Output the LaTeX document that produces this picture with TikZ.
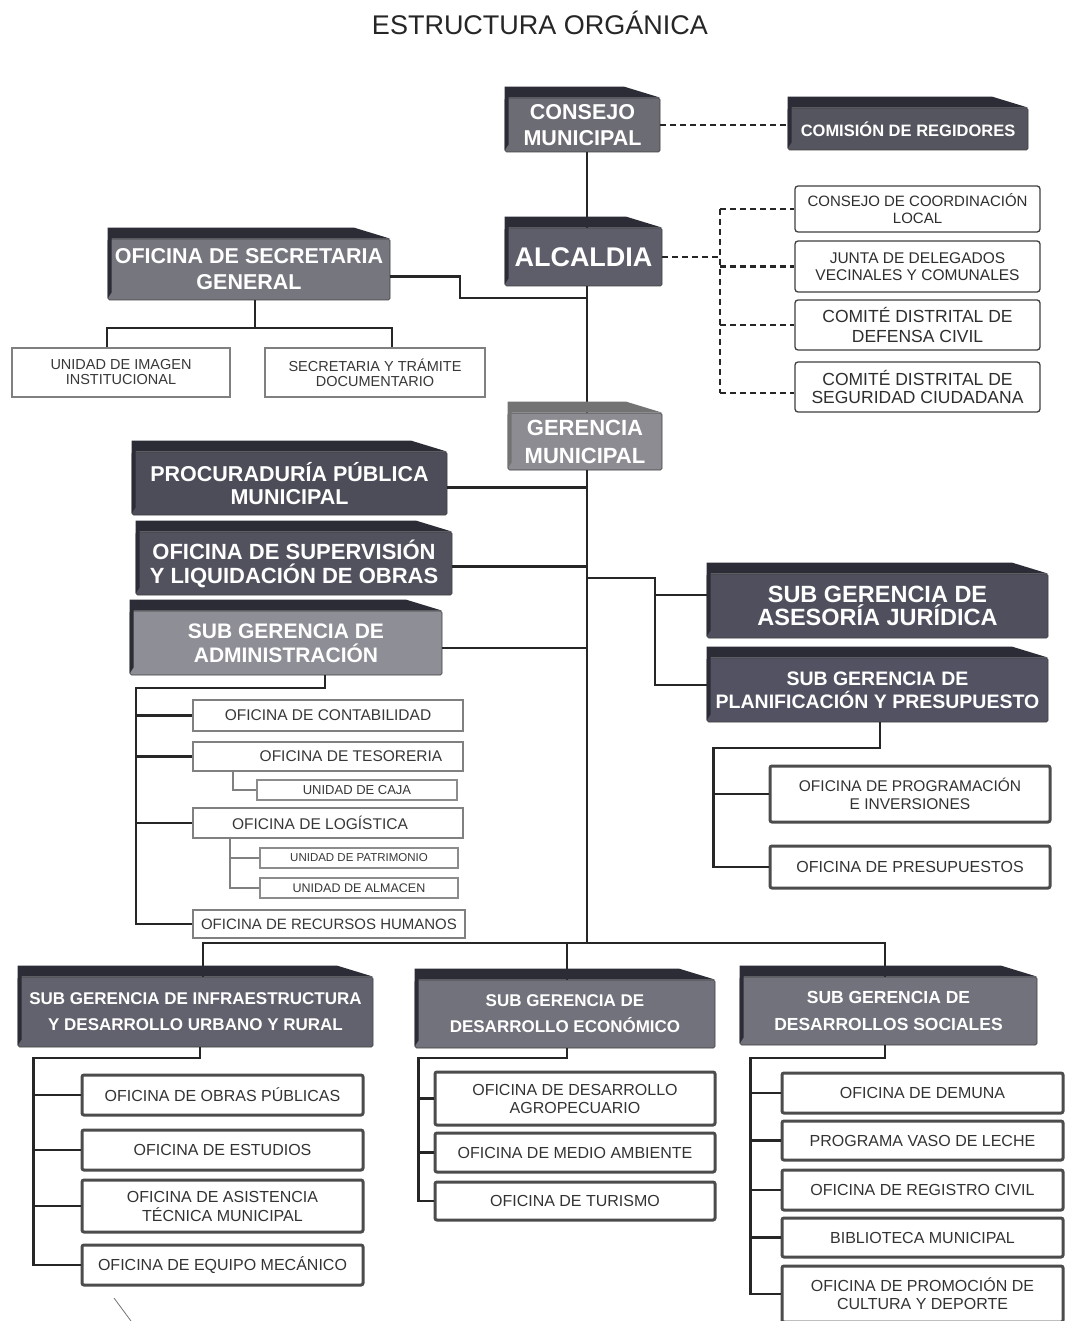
\documentclass[tikz,border=0pt]{standalone}
\usepackage{fontspec}
\setmainfont{Liberation Sans}
\usetikzlibrary{calc}
\definecolor{lidc}{HTML}{2C2C36}
\definecolor{cConsejo}{HTML}{6C6C74}
\definecolor{cCom}{HTML}{55555F}
\definecolor{cAlc}{HTML}{5E5E6A}
\definecolor{cSec}{HTML}{76767F}
\definecolor{cGer}{HTML}{8C8C92}
\definecolor{cPro}{HTML}{4D4D5A}
\definecolor{cSup}{HTML}{52525F}
\definecolor{cAdm}{HTML}{8E8E96}
\definecolor{cAse}{HTML}{4F4F5E}
\definecolor{cPla}{HTML}{525262}
\definecolor{cInf}{HTML}{62626E}
\definecolor{cEco}{HTML}{72727C}
\definecolor{cSoc}{HTML}{72727C}
\newcommand{\fsz}[2]{\fontsize{#1}{#2}\selectfont}
\newcommand{\lid}[2][lidc]{\fill[#1] ([yshift=11pt]#2.north west) -- ([xshift=-36pt,yshift=11pt]#2.north east) -- (#2.north east) -- ([xshift=4pt]#2.north west) -- ([xshift=4pt,yshift=8pt]#2.south west) -- ([yshift=2pt]#2.south west) -- cycle;}
\tikzset{
 sz/.style 2 args={minimum width=#1pt, minimum height=#2pt},
 dbox/.style={fill=#1, draw=black!75, line width=0.6pt, text=white, align=center, inner sep=1pt, rounded corners=1.5pt},
 lbox/.style={fill=white, draw=black!70, line width=3pt, text=black!80, align=center, inner sep=1pt, rounded corners=2pt},
 abox/.style={fill=white, draw=black!50, line width=1.8pt, text=black!78, align=center, inner sep=1pt},
 ubox/.style={fill=white, draw=black!45, line width=1.3pt, text=black!78, align=center, inner sep=1pt},
 rbox/.style={fill=white, draw=black!75, line width=1.3pt, text=black!82, align=center, inner sep=1pt, rounded corners=3pt},
 conn/.style={draw=black!85, line width=2.2pt},
 dconn/.style={draw=black!85, line width=2.3pt, dash pattern=on 6pt off 4pt},
 uconn/.style={draw=black!50, line width=1.3pt},
}
\begin{document}
\begin{tikzpicture}[x=1pt,y=-1pt]
\useasboundingbox (0,0) rectangle (1066,1321);
\fill[white] (0,0) rectangle (1066,1321);

\node[font=\fsz{27}{30}, text=black!85] (title) at (540,23) {ESTRUCTURA ORGÁNICA};

% dark boxes
\node[dbox=cConsejo, sz={155}{54}, font=\fsz{21.5}{26}\bfseries] (consejo) at (582.5,125) {CONSEJO\\MUNICIPAL};
\node[dbox=cCom, sz={240}{42}, font=\fsz{16.5}{18}\bfseries] (comision) at (908,129) {COMISIÓN DE REGIDORES};
\node[dbox=cAlc, sz={157}{58}, font=\fsz{27}{30}\bfseries] (alcaldia) at (583.5,257) {ALCALDIA};
\node[dbox=cSec, sz={282}{61}, font=\fsz{21.5}{26}\bfseries] (secg) at (249,269.5) {OFICINA DE SECRETARIA\\GENERAL};
\node[dbox=cGer, sz={154}{57}, font=\fsz{22}{28}\bfseries] (gerencia) at (585,441.5) {GERENCIA\\MUNICIPAL};
\node[dbox=cPro, sz={315}{63}, font=\fsz{21.5}{23}\bfseries] (procur) at (289.5,483.5) {PROCURADURÍA PÚBLICA\\MUNICIPAL};
\node[dbox=cSup, sz={316}{63}, font=\fsz{22}{24}\bfseries] (superv) at (294,563.5) {OFICINA DE SUPERVISIÓN\\Y LIQUIDACIÓN DE OBRAS};
\node[dbox=cAdm, sz={312}{64}, font=\fsz{21}{24}\bfseries] (admin) at (286,643) {SUB GERENCIA DE\\ADMINISTRACIÓN};
\node[dbox=cAse, sz={341}{64}, font=\fsz{23.5}{23}\bfseries] (asesoria) at (877.5,606) {SUB GERENCIA DE\\ASESORÍA JURÍDICA};
\node[dbox=cPla, sz={341}{64}, font=\fsz{19.5}{23}\bfseries] (planif) at (877.5,690) {SUB GERENCIA DE\\PLANIFICACIÓN Y PRESUPUESTO};
\node[dbox=cInf, sz={355}{70}, font=\fsz{17}{26}\bfseries] (infra) at (195.5,1012) {SUB GERENCIA DE INFRAESTRUCTURA\\Y DESARROLLO URBANO Y RURAL};
\node[dbox=cEco, sz={300}{68}, font=\fsz{17}{26}\bfseries] (econ) at (565,1014) {SUB GERENCIA DE\\DESARROLLO ECONÓMICO};
\node[dbox=cSoc, sz={297}{68}, font=\fsz{17.5}{27}\bfseries] (social) at (888.5,1011) {SUB GERENCIA DE\\DESARROLLOS SOCIALES};

% right group
\node[rbox, sz={245}{46}, font=\fsz{15}{17}] (ccl) at (917.5,209) {CONSEJO DE COORDINACIÓN\\LOCAL};
\node[rbox, sz={245}{51}, font=\fsz{15.5}{17}] (junta) at (917.5,266.5) {JUNTA DE DELEGADOS\\VECINALES Y COMUNALES};
\node[rbox, sz={245}{50}, font=\fsz{17.5}{20}] (defensa) at (917.5,325) {COMITÉ DISTRITAL DE\\DEFENSA CIVIL};
\node[rbox, sz={245}{50}, font=\fsz{17.5}{18}] (segur) at (917.5,387) {COMITÉ DISTRITAL DE\\SEGURIDAD CIUDADANA};

% secretaria children
\node[abox, sz={218}{49}, font=\fsz{14.5}{15}] (imagen) at (121,372.5) {UNIDAD DE IMAGEN\\INSTITUCIONAL};
\node[abox, sz={220}{49}, font=\fsz{14.5}{15}] (tramite) at (375,372.5) {SECRETARIA Y TRÁMITE\\DOCUMENTARIO};

% administracion children
\node[abox, sz={270}{31}, font=\fsz{15.5}{17}] (contab) at (328,715.5) {OFICINA DE CONTABILIDAD};
\node[abox, sz={270}{29}, font=\fsz{15.5}{17}] (tesor) at (328,756.5) {\hspace*{46pt}OFICINA DE TESORERIA};
\node[ubox, sz={200}{20}, font=\fsz{13}{14}] (caja) at (357,790) {UNIDAD DE CAJA};
\node[abox, sz={270}{30}, font=\fsz{15.5}{17}] (logist) at (328,823) {OFICINA DE LOGÍSTICA\hspace*{16pt}};
\node[ubox, sz={198}{20}, font=\fsz{11.5}{13}] (patrim) at (359,858) {UNIDAD DE PATRIMONIO};
\node[ubox, sz={198}{20}, font=\fsz{12.5}{13}] (almacen) at (359,888) {UNIDAD DE ALMACEN};
\node[abox, sz={272}{28}, font=\fsz{15}{17}] (rrhh) at (329,924) {OFICINA DE RECURSOS HUMANOS};

% planificacion children
\node[lbox, sz={280}{56}, font=\fsz{15.5}{18}] (program) at (910,794) {OFICINA DE PROGRAMACIÓN\\E INVERSIONES};
\node[lbox, sz={280}{42}, font=\fsz{16}{18}] (presup) at (910,867) {OFICINA DE PRESUPUESTOS};

% infraestructura children
\node[lbox, sz={281}{40}, font=\fsz{16}{18}] (obras) at (222.5,1095) {OFICINA DE OBRAS PÚBLICAS};
\node[lbox, sz={281}{40}, font=\fsz{16}{18}] (estud) at (222.5,1150) {OFICINA DE ESTUDIOS};
\node[lbox, sz={281}{52}, font=\fsz{16}{19}] (asist) at (222.5,1206) {OFICINA DE ASISTENCIA\\TÉCNICA MUNICIPAL};
\node[lbox, sz={281}{40}, font=\fsz{16}{18}] (equipo) at (222.5,1265) {OFICINA DE EQUIPO MECÁNICO};

% economico children
\node[lbox, sz={280}{53}, font=\fsz{16}{18}] (agro) at (575,1098.5) {OFICINA DE DESARROLLO\\AGROPECUARIO};
\node[lbox, sz={280}{39}, font=\fsz{16}{18}] (medio) at (575,1152.5) {OFICINA DE MEDIO AMBIENTE};
\node[lbox, sz={280}{38}, font=\fsz{16}{18}] (turismo) at (575,1201) {OFICINA DE TURISMO};

% sociales children
\node[lbox, sz={281}{40}, font=\fsz{16}{18}] (demuna) at (922.5,1093) {OFICINA DE DEMUNA};
\node[lbox, sz={281}{39}, font=\fsz{16}{18}] (vaso) at (922.5,1140.5) {PROGRAMA VASO DE LECHE};
\node[lbox, sz={281}{40}, font=\fsz{16}{18}] (registro) at (922.5,1190) {OFICINA DE REGISTRO CIVIL};
\node[lbox, sz={281}{39}, font=\fsz{16}{18}] (biblio) at (922.5,1237.5) {BIBLIOTECA MUNICIPAL};
\node[lbox, sz={281}{56}, font=\fsz{16}{18}] (cultura) at (922.5,1294) {OFICINA DE PROMOCIÓN DE\\CULTURA Y DEPORTE};

% ---------- connectors ----------
% dashed
\draw[dconn] (consejo.east) -- (comision.west |- consejo.east);
\coordinate (dv) at (720,0);
\draw[dconn] (alcaldia.east) -- (alcaldia.east -| dv);
\draw[dconn] (ccl.west -| dv) -- ([yshift=-6pt]segur.west -| dv);
\foreach \n in {ccl,junta,defensa} \draw[dconn] (\n.west -| dv) -- (\n.west);
\draw[dconn] ([yshift=-6pt]segur.west -| dv) -- ([yshift=-6pt]segur.west);

% trunk
\coordinate (tx) at (587,0);
\coordinate (busc) at (587,943);
\draw[conn] (consejo.south -| tx) -- (alcaldia.north -| tx);
\draw[conn] (alcaldia.south -| tx) -- (gerencia.north -| tx);
\draw[conn] (gerencia.south -| tx) -- (busc);

% secretaria
\coordinate (sj) at (587,298);
\draw[conn] ([yshift=-7pt]secg.east) -- ++(70,0) |- (sj);
\coordinate (sb) at (255,328);
\draw[conn] (secg.south -| sb) -- (sb);
\draw[conn] ([xshift=-14pt]imagen.north) |- (sb) -| ([xshift=17pt]tramite.north);

% left offices to trunk
\draw[conn] ([yshift=-4pt]procur.east) -- ([yshift=-4pt]procur.east -| tx);
\draw[conn] ([yshift=-3pt]superv.east) -- ([yshift=-3pt]superv.east -| tx);
\draw[conn] ([yshift=-5pt]admin.east) -- ([yshift=-5pt]admin.east -| tx);

% right sub gerencias
\coordinate (rj) at (587,578);
\draw[conn] (rj) -| ([xshift=-52pt,yshift=5pt]planif.west) -- ([yshift=5pt]planif.west);
\draw[conn] ([xshift=-52pt,yshift=11pt]asesoria.west) -- ([yshift=11pt]asesoria.west);

% planificacion children
\draw[conn] ([xshift=2.5pt]planif.south) -- ++(0,26) -| ([xshift=-55pt]presup.west) -- (presup.west);
\draw[conn] ([xshift=-55pt]program.west) -- (program.west);

% administracion children
\draw[conn] ([xshift=39pt]admin.south) -- ++(0,13) -| ([xshift=-56pt]rrhh.west) -- (rrhh.west);
\foreach \n in {contab,tesor,logist} \draw[conn] ([xshift=-56pt]\n.west) -- (\n.west);
\draw[uconn] ([xshift=-95pt]tesor.south) |- (caja.west);
\draw[uconn] ([xshift=-98pt]logist.south) |- (almacen.west);
\draw[uconn] ([xshift=-30pt]patrim.west) -- (patrim.west);

% bus
\draw[conn] ([xshift=7.5pt]infra.north) |- (busc) -| ([xshift=-3.5pt]social.north);
\draw[conn] ([xshift=2pt]econ.north) -- ([xshift=2pt]econ.north |- busc);

% infraestructura children
\draw[conn] ([xshift=4.5pt]infra.south) -- ++(0,11) -| ([xshift=-47pt]equipo.west) -- (equipo.west);
\foreach \n in {obras,estud,asist} \draw[conn] ([xshift=-47pt]\n.west) -- (\n.west);

% economico children
\draw[conn] ([xshift=2pt]econ.south) -- ++(0,10) -| ([xshift=-15pt]turismo.west) -- (turismo.west);
\foreach \n in {agro,medio} \draw[conn] ([xshift=-15pt]\n.west) -- (\n.west);

% sociales children
\draw[conn] ([xshift=-3.5pt]social.south) -- ++(0,13) -| ([xshift=-30pt]cultura.west) -- (cultura.west);
\foreach \n in {demuna,vaso,registro,biblio} \draw[conn] ([xshift=-30pt]\n.west) -- (\n.west);

% lids
\foreach \n in {consejo,comision,alcaldia,secg,procur,superv,admin,asesoria,planif,infra,econ,social} {\lid{\n}}
\lid[black!55]{gerencia}

% stray scan mark
\draw[black!55, line width=0.8pt] (114,1298) -- (131,1321);
\end{tikzpicture}
\end{document}
